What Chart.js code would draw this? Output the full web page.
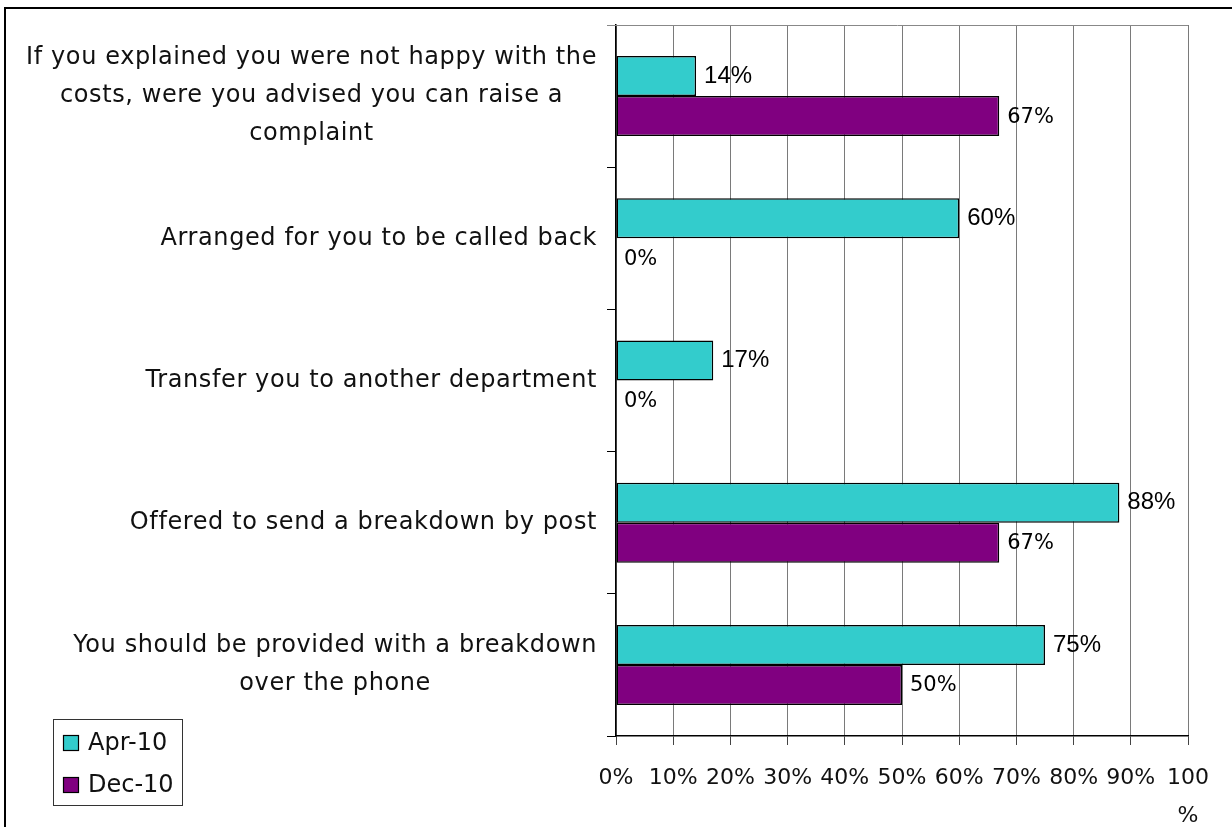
<!DOCTYPE html>
<html>
<head>
<meta charset="utf-8">
<title>Call handling – cost questions</title>
<script src="https://cdn.jsdelivr.net/npm/chart.js@4/dist/chart.umd.min.js"></script>
<style>
  html, body { margin: 0; padding: 0; background: #ffffff; }
  #wrap { position: relative; width: 1232px; height: 827px; }
</style>
</head>
<body>
<div id="wrap"><canvas id="chart" width="1232" height="827"></canvas></div>
<script>
// Question wording, one array of lines per category (top to bottom)
const categories = [
  ['If you explained you were not happy with the', 'costs, were you advised you can raise a', 'complaint'],
  ['Arranged for you to be called back'],
  ['Transfer you to another department'],
  ['Offered to send a breakdown by post'],
  ['You should be provided with a breakdown', 'over the phone']
];

const seriesNames = ['Apr-10', 'Dec-10'];

// Percent of respondents per question
const apr10 = [14, 60, 17, 88, 75];
const dec10 = [67, 0, 0, 67, 50];

// Value axis tick labels (0% … 100%); the last one wraps onto two lines
const xTickLabels = ['0%', '10%', '20%', '30%', '40%', '50%', '60%', '70%', '80%', '90%', ['100', '%']];

const seriesColors = ['#33CCCC', '#800080'];
const labelFont = '"DejaVu Sans", sans-serif';

// Outer frame of the figure
const framePlugin = {
  id: 'frame',
  beforeDraw(chart) {
    const ctx = chart.ctx;
    ctx.save();
    ctx.fillStyle = '#000';
    ctx.fillRect(4, 7, chart.width, 2);
    ctx.fillRect(4, 7, 2, chart.height);
    ctx.restore();
  }
};

// Plot-area outline (top edge)
const plotBorderPlugin = {
  id: 'plotBorder',
  beforeDatasetsDraw(chart) {
    const { ctx, chartArea } = chart;
    ctx.save();
    ctx.strokeStyle = '#888';
    ctx.lineWidth = 1;
    ctx.beginPath();
    ctx.moveTo(chartArea.left - 9, chartArea.top + 0.5);
    ctx.lineTo(chartArea.right, chartArea.top + 0.5);
    ctx.stroke();
    ctx.restore();
  }
};

// Category labels: block right-aligned against the axis, lines centred within the block
const categoryLabelPlugin = {
  id: 'categoryLabels',
  afterDraw(chart) {
    const ctx = chart.ctx;
    const yScale = chart.scales.y;
    const right = chart.chartArea.left - 19;
    const lineGap = 38;
    ctx.save();
    ctx.font = '24px ' + labelFont;
    ctx.letterSpacing = '0.6px';
    ctx.fillStyle = '#111';
    ctx.textAlign = 'center';
    ctx.textBaseline = 'middle';
    chart.data.labels.forEach((lines, i) => {
      const y = yScale.getPixelForTick(i);
      const widest = Math.max(...lines.map(l => ctx.measureText(l).width));
      const cx = right - widest / 2;
      lines.forEach((line, j) => {
        ctx.fillText(line, cx, y + (j - (lines.length - 1) / 2) * lineGap);
      });
    });
    ctx.restore();
  }
};

// Value labels just past the end of each bar
const valueLabelPlugin = {
  id: 'valueLabels',
  afterDatasetsDraw(chart) {
    const ctx = chart.ctx;
    ctx.save();
    ctx.textAlign = 'left';
    ctx.textBaseline = 'middle';
    ctx.fillStyle = '#000';
    chart.data.datasets.forEach((ds, di) => {
      const meta = chart.getDatasetMeta(di);
      ctx.font = di === 0 ? '24px "Liberation Sans", Arial, sans-serif' : '21px ' + labelFont;
      meta.data.forEach((bar, i) => {
        ctx.fillText(ds.data[i] + '%', bar.x + 8, bar.y + (di === 0 ? 0 : 1));
      });
    });
    ctx.restore();
  }
};

// Boxed legend in the lower-left corner
const boxLegendPlugin = {
  id: 'boxLegend',
  afterDraw(chart) {
    const ctx = chart.ctx;
    const x0 = 53, y0 = 719, w = 129, h = 86, rowGap = 42;
    ctx.save();
    ctx.strokeStyle = '#333';
    ctx.lineWidth = 1;
    ctx.strokeRect(x0 + 0.5, y0 + 0.5, w, h);
    ctx.font = '24px ' + labelFont;
    ctx.textAlign = 'left';
    ctx.textBaseline = 'middle';
    chart.data.datasets.forEach((ds, i) => {
      const cy = y0 + 24 + i * rowGap;
      ctx.fillStyle = ds.backgroundColor;
      ctx.fillRect(x0 + 10, cy - 8, 16, 16);
      ctx.strokeStyle = '#000';
      ctx.lineWidth = 1.2;
      ctx.strokeRect(x0 + 10.5, cy - 7.5, 15, 15);
      ctx.fillStyle = '#111';
      ctx.fillText(ds.label, x0 + 35, cy + 1);
    });
    ctx.restore();
  }
};

new Chart(document.getElementById('chart'), {
  type: 'bar',
  data: {
    labels: categories,
    datasets: [
      { label: seriesNames[0], data: apr10, backgroundColor: seriesColors[0], borderColor: '#000', borderWidth: 1.5, borderSkipped: false },
      { label: seriesNames[1], data: dec10, backgroundColor: seriesColors[1], borderColor: '#000', borderWidth: 1.5, borderSkipped: false }
    ]
  },
  options: {
    indexAxis: 'y',
    responsive: false,
    animation: false,
    events: [],
    categoryPercentage: 0.5625,
    barPercentage: 1.0,
    layout: { padding: { top: 25, right: 44, left: 0, bottom: 0 } },
    plugins: {
      legend: { display: false },
      tooltip: { enabled: false }
    },
    scales: {
      x: {
        type: 'linear',
        min: 0,
        max: 100,
        ticks: {
          stepSize: 10,
          autoSkip: false,
          maxRotation: 0,
          padding: 14,
          color: '#111',
          font: { family: labelFont, size: 22, lineHeight: 1.73 },
          callback: (value, index) => xTickLabels[index]
        },
        grid: { color: '#7a7a7a', lineWidth: 1, tickLength: 9, tickColor: '#444' },
        border: { color: '#000', width: 1.5 },
        afterFit(scale) { scale.height = 91; }
      },
      y: {
        ticks: { display: false },
        grid: { offset: true, drawOnChartArea: false, tickLength: 9, color: '#000', lineWidth: 1 },
        border: { color: '#000', width: 1.5 },
        afterFit(scale) { scale.width = 616; }
      }
    }
  },
  plugins: [framePlugin, plotBorderPlugin, categoryLabelPlugin, valueLabelPlugin, boxLegendPlugin]
});
</script>
</body>
</html>
